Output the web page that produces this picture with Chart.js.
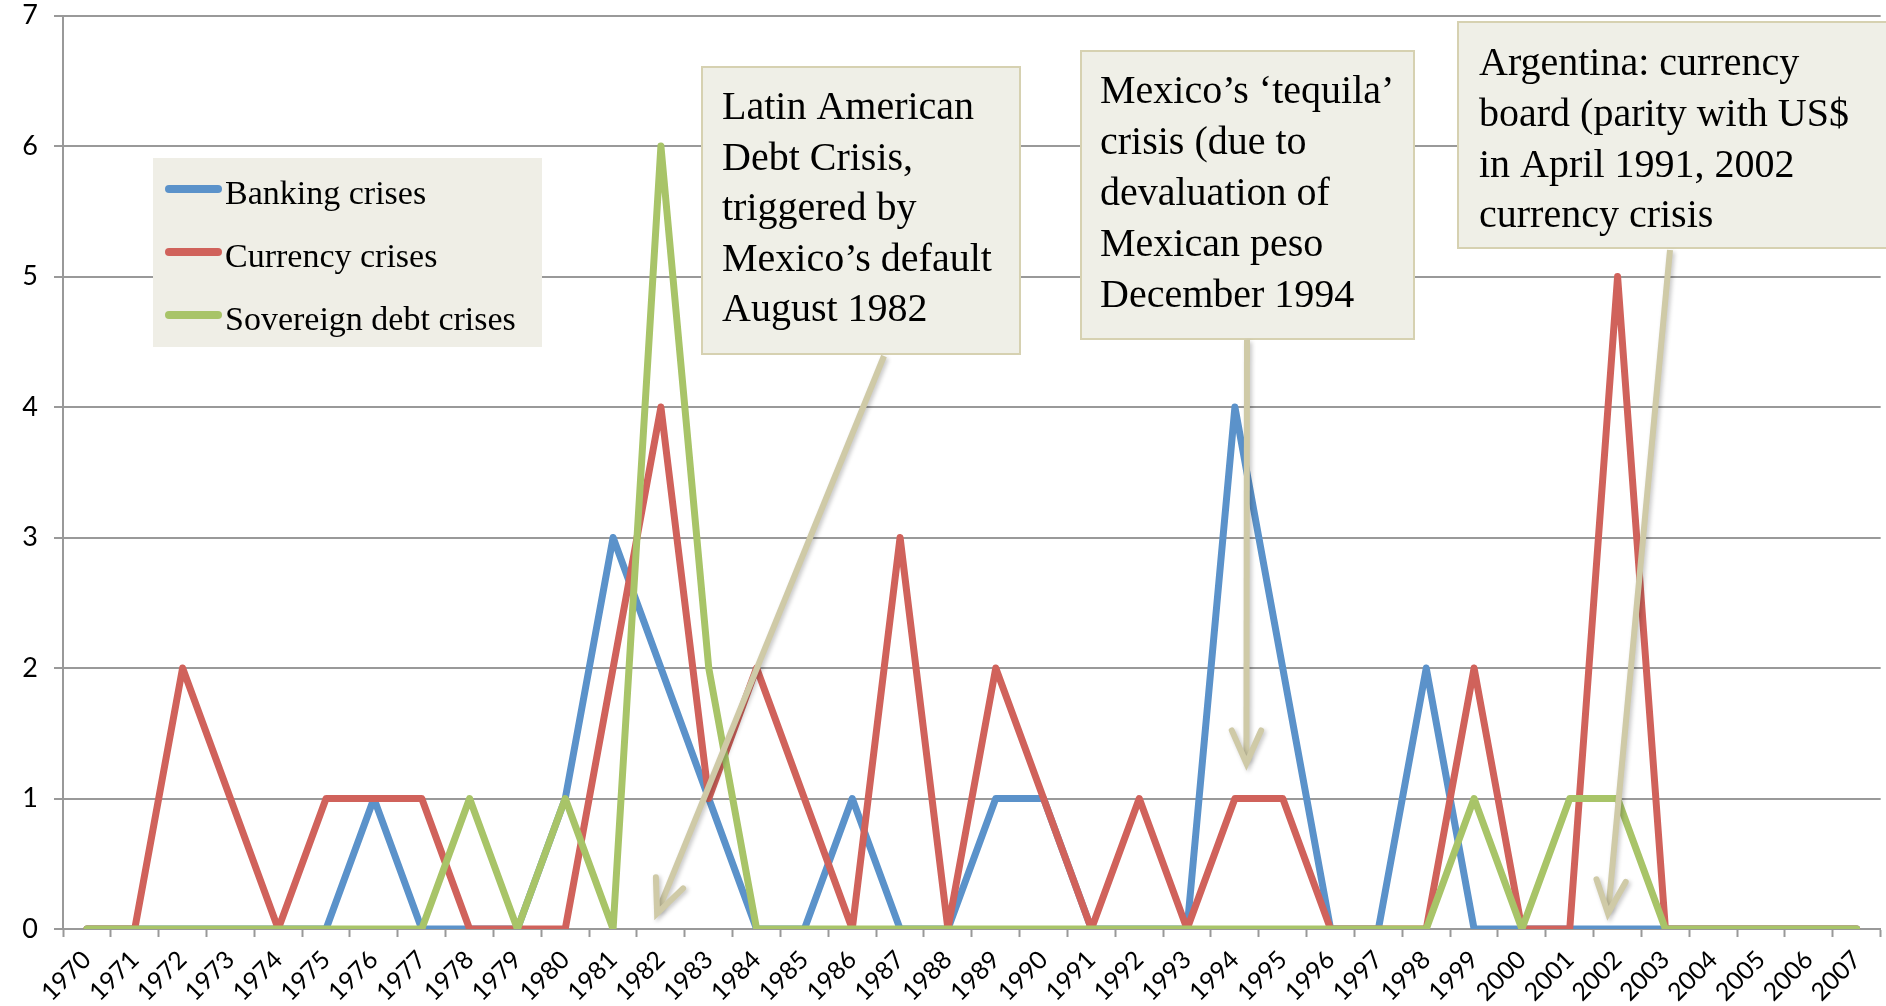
<!DOCTYPE html>
<html><head><meta charset="utf-8">
<script src="https://cdn.jsdelivr.net/npm/chart.js@4"></script>
<style>html,body{margin:0;padding:0;background:#fff;} #wrap{width:1886px;height:1006px;position:relative;}</style>
</head><body><div id="wrap"><canvas id="c" width="1886" height="1006"></canvas></div>
<script>
const years = ['1970','1971','1972','1973','1974','1975','1976','1977','1978','1979','1980','1981','1982','1983','1984','1985','1986','1987','1988','1989','1990','1991','1992','1993','1994','1995','1996','1997','1998','1999','2000','2001','2002','2003','2004','2005','2006','2007'];
const banking   = [0,0,0,0,0,0,1,0,0,0,1,3,2,1,0,0,1,0,0,1,1,0,0,0,4,2,0,0,2,0,0,0,0,0,0,0,0,0];
const currency  = [0,0,2,1,0,1,1,1,0,0,0,2,4,1,2,1,0,3,0,2,1,0,1,0,1,1,0,0,0,2,0,0,5,0,0,0,0,0];
const sovereign = [0,0,0,0,0,0,0,0,1,0,1,0,6,2,0,0,0,0,0,0,0,0,0,0,0,0,0,0,0,1,0,1,1,0,0,0,0,0];
const yTickValues = [0,1,2,3,4,5,6,7];
const seriesNames = ['Banking crises','Currency crises','Sovereign debt crises'];
const seriesColors = ['#5B92CA','#D0625B','#A8C468'];
const noteLines1 = ['Latin American','Debt Crisis,','triggered by','Mexico\u2019s default','August 1982'];
const noteLines2 = ['Mexico\u2019s \u2018tequila\u2019','crisis (due to','devaluation of','Mexican peso','December 1994'];
const noteLines3 = ['Argentina: currency','board (parity with US$','in April 1991, 2002','currency crisis'];

const notes = [
  {lines: noteLines1, box:[702,67,318,287], textX:722, base:119, step:50.6, from:[884,356], tipIndex:11.92, tipValue:0.12},
  {lines: noteLines2, box:[1081,51,333,288], textX:1100, base:103, step:51, from:[1247,340], tipIndex:24.24, tipValue:1.27},
  {lines: noteLines3, box:[1458,22,440,226], textX:1479, base:75, step:50.8, from:[1670,250], tipIndex:31.8, tipValue:0.12}
];

const overlay = {
  id:'overlay',
  afterDatasetsDraw(chart){
    const ctx = chart.ctx;
    const xs = chart.scales.x, ys = chart.scales.y;
    ctx.save();
    // legend
    ctx.fillStyle = '#EFEEE6';
    ctx.fillRect(153,158,389,189);
    const rowsY = [189,252,315];
    for (let i=0;i<3;i++){
      ctx.strokeStyle = seriesColors[i];
      ctx.lineWidth = 8; ctx.lineCap = 'round';
      ctx.beginPath(); ctx.moveTo(169,rowsY[i]); ctx.lineTo(218,rowsY[i]); ctx.stroke();
      ctx.fillStyle = '#000';
      ctx.font = '34px "Liberation Serif", serif';
      ctx.textBaseline = 'alphabetic'; ctx.textAlign = 'left';
      ctx.fillText(seriesNames[i], 225, rowsY[i]+15);
    }
    // annotation boxes
    for (const n of notes){
      const [bx,by,bw,bh] = n.box;
      ctx.fillStyle = '#EFEFE7';
      ctx.fillRect(bx,by,bw,bh);
      ctx.strokeStyle = '#D6D1B1'; ctx.lineWidth = 2;
      ctx.strokeRect(bx,by,bw,bh);
      ctx.fillStyle = '#000';
      ctx.font = '40px "Liberation Serif", serif';
      n.lines.forEach((t,k)=>ctx.fillText(t, n.textX, n.base + k*n.step));
    }
    // arrows
    for (const n of notes){
      const tx = xs.getPixelForValue(n.tipIndex), ty = ys.getPixelForValue(n.tipValue);
      const [fx,fy] = n.from;
      const ang = Math.atan2(ty-fy, tx-fx);
      ctx.save();
      ctx.shadowColor = 'rgba(0,0,0,0.22)'; ctx.shadowBlur = 4; ctx.shadowOffsetX = 2; ctx.shadowOffsetY = 2;
      ctx.strokeStyle = '#CFCAA7'; ctx.lineWidth = 6; ctx.lineCap = 'butt'; ctx.lineJoin = 'miter';
      ctx.beginPath(); ctx.moveTo(fx,fy); ctx.lineTo(tx - 3*Math.cos(ang), ty - 3*Math.sin(ang)); ctx.stroke();
      const L = 36, a = 0.42;
      ctx.lineCap = 'round';
      ctx.beginPath();
      ctx.moveTo(tx - L*Math.cos(ang - a), ty - L*Math.sin(ang - a));
      ctx.lineTo(tx, ty);
      ctx.lineTo(tx - L*Math.cos(ang + a), ty - L*Math.sin(ang + a));
      ctx.stroke();
      ctx.restore();
    }
    ctx.restore();
  }
};

const mk = (i, data, order) => ({
  label: seriesNames[i], data, borderColor: seriesColors[i], backgroundColor: seriesColors[i],
  borderWidth: 7, pointRadius: 0, tension: 0, fill: false,
  borderCapStyle: 'round', borderJoinStyle: 'round', order
});

new Chart(document.getElementById('c'), {
  type: 'line',
  data: { labels: years, datasets: [ mk(0, banking, 2), mk(1, currency, 1), mk(2, sovereign, 0) ] },
  options: {
    responsive: false, animation: false, devicePixelRatio: 1,
    layout: { padding: { top: 0, right: 3, left: 0, bottom: 0 } },
    plugins: { legend: { display: false }, tooltip: { enabled: false } },
    scales: {
      x: {
        type: 'category', offset: true,
        grid: { display: true, drawOnChartArea: false, drawTicks: true, offset: true, tickLength: 8, tickColor: '#999', tickWidth: 2 },
        border: { display: true, color: '#999', width: 2 },
        ticks: { autoSkip: false, maxRotation: 45, minRotation: 45, padding: 8, color: '#000', font: { family: 'Lato', size: 25 } },
        afterFit(s){ s.height = 77; }
      },
      y: {
        min: 0, max: 7,
        afterBuildTicks(s){ s.ticks = yTickValues.map(v=>({value:v})); },
        grid: { color: '#999', lineWidth: 2, drawTicks: true, tickLength: 9, tickColor: '#999' },
        border: { display: true, color: '#999', width: 2 },
        ticks: { padding: 16, color: '#000', font: { family: 'Lato', size: 27 } },
        afterFit(s){ s.width = 63; s.paddingTop = 15.6; s.paddingBottom = 0; }
      }
    }
  },
  plugins: [overlay]
});
</script>
</body></html>
